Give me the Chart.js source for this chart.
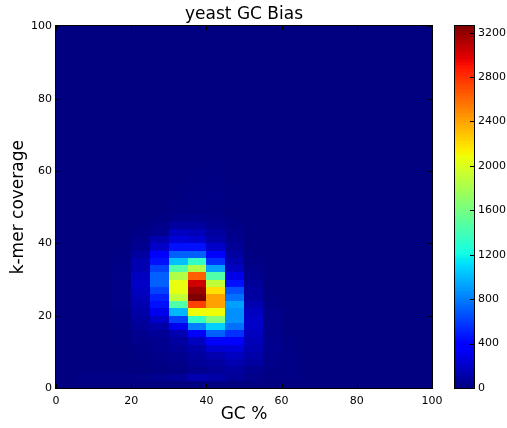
<!DOCTYPE html>
<html>
<head>
<meta charset="utf-8">
<script src="https://cdn.jsdelivr.net/npm/chart.js@4"></script>
<style>
  body { margin: 0; background: #ffffff; }
  #wrap { position: relative; width: 507px; height: 428px; }
  #wrap canvas { position: absolute; left: 0; top: 0; }
</style>
</head>
<body>
<div id="wrap">
  <canvas id="heat" width="507" height="428"></canvas>
  <canvas id="cbar" width="507" height="428"></canvas>
</div>
<script>
// bin edges (left / bottom edge of each cell)
const gcBins = [0, 5, 10, 15, 20, 25, 30, 35, 40, 45, 50, 55, 60, 65, 70, 75, 80, 85, 90, 95];
const covBins = [0, 2, 4, 6, 8, 10, 12, 14, 16, 18, 20, 22, 24, 26, 28, 30, 32, 34, 36, 38,
                 40, 42, 44, 46, 48, 50, 52, 54, 56, 58, 60, 62, 64, 66, 68, 70, 72, 74, 76, 78,
                 80, 82, 84, 86, 88, 90, 92, 94, 96, 98];
const gcWidth = 5;
const covHeight = 2;

// counts per GC column, from coverage 0-2 upwards (columns not listed are empty)
const gc05 = [0, 20];
const gc10 = [0, 20];
const gc15 = [0, 20, 0, 0, 5, 5, 10, 10, 15, 15, 20, 25, 25, 25, 25, 25, 20, 20, 15, 10, 5];
const gc20 = [0, 24, 5, 10, 15, 20, 30, 47, 69, 91, 114, 136, 158, 181, 204, 181, 136, 136, 91, 47,
              30, 20, 10, 5];
const gc25 = [0, 47, 10, 20, 30, 40, 47, 69, 114, 204, 316, 459, 510, 612, 714, 714, 612, 459, 360, 204,
              136, 47, 30, 15, 5];
const gc30 = [0, 69, 20, 30, 45, 69, 91, 136, 316, 612, 994, 1457, 1900, 2060, 2060, 1839, 1457, 1020, 714, 459,
              249, 181, 91, 40, 20, 15, 10, 10, 5];
const gc35 = [0, 136, 40, 69, 91, 114, 181, 380, 816, 1334, 2090, 2747, 3260, 3180, 3033, 2634, 1839, 1334, 714, 459,
              227, 158, 91, 40, 20, 20, 20, 15, 15, 10, 10, 5];
const gc40 = [0, 114, 69, 91, 136, 227, 380, 714, 1071, 1647, 2090, 2412, 2412, 2192, 1900, 1457, 918, 561, 380, 204,
              114, 91, 47, 30, 15, 20, 20, 20, 15, 15, 10, 10, 5];
const gc45 = [0, 69, 91, 136, 181, 249, 380, 561, 765, 867, 867, 918, 765, 663, 459, 294, 181, 136, 91, 69,
              47, 30, 20, 10, 5, 10, 10, 10, 5];
const gc50 = [0, 30, 47, 91, 114, 136, 158, 181, 204, 204, 181, 136, 91, 91, 69, 47, 30, 20, 10, 5];
const gc55 = [0, 15, 20, 30, 35, 47, 40, 35, 35, 30, 30, 20, 10];
const gc60 = [0, 15, 20, 20, 20, 15, 15, 10];

const gcCols = [5, 10, 15, 20, 25, 30, 35, 40, 45, 50, 55, 60];
const colCounts = [gc05, gc10, gc15, gc20, gc25, gc30, gc35, gc40, gc45, gc50, gc55, gc60];

const xTicks = [0, 20, 40, 60, 80, 100];
const yTicks = [0, 20, 40, 60, 80, 100];
const cbTicks = [0, 400, 800, 1200, 1600, 2000, 2400, 2800, 3200];

const FONT = 'DejaVu Sans';
const colorMax = Math.max(...colCounts.flat());

const countAt = (gc, row) => {
    const i = gcCols.indexOf(gc);
    if (i < 0) return 0;
    return colCounts[i][row] || 0;
};

// matplotlib "jet"
const jetR = [[0, 0], [0.35, 0], [0.66, 1], [0.89, 1], [1, 0.5]];
const jetG = [[0, 0], [0.125, 0], [0.375, 1], [0.64, 1], [0.91, 0], [1, 0]];
const jetB = [[0, 0.5], [0.11, 1], [0.34, 1], [0.65, 0], [1, 0]];
const seg = (pts, t) => {
    for (let i = 0; i < pts.length - 1; i++) {
        if (t <= pts[i + 1][0]) {
            const f = (t - pts[i][0]) / (pts[i + 1][0] - pts[i][0]);
            return pts[i][1] + f * (pts[i + 1][1] - pts[i][1]);
        }
    }
    return pts[pts.length - 1][1];
};
const jet = (v) => {
    const t = Math.min(1, Math.max(0, v / colorMax));
    const c = [jetR, jetG, jetB].map(p => Math.round(seg(p, t) * 255));
    return `rgb(${c[0]},${c[1]},${c[2]})`;
};

// inward tick marks along an edge
const drawTicks = (ctx, pos, horizontal, edge, dir) => {
    ctx.beginPath();
    pos.forEach(p => {
        const q = Math.round(p) + 0.5;
        if (horizontal) { ctx.moveTo(q, edge); ctx.lineTo(q, edge + dir * 4); }
        else { ctx.moveTo(edge, q); ctx.lineTo(edge + dir * 4, q); }
    });
    ctx.stroke();
};

const heatPlugin = {
    id: 'heat',
    beforeDatasetsDraw(chart) {
        const {ctx, scales: {x, y}} = chart;
        ctx.save();
        gcBins.forEach(gc => {
            const x0 = Math.round(x.getPixelForValue(gc));
            const x1 = Math.round(x.getPixelForValue(gc + gcWidth));
            covBins.forEach((cov, row) => {
                const y0 = Math.round(y.getPixelForValue(cov + covHeight));
                const y1 = Math.round(y.getPixelForValue(cov));
                ctx.fillStyle = jet(countAt(gc, row));
                ctx.fillRect(x0, y0, x1 - x0, y1 - y0);
            });
        });
        ctx.restore();
    },
    afterDraw(chart) {
        const {ctx, chartArea: a, scales: {x, y}} = chart;
        ctx.save();
        ctx.strokeStyle = '#000000';
        ctx.lineWidth = 1;
        const xs = xTicks.map(v => x.getPixelForValue(v));
        const ys = yTicks.map(v => y.getPixelForValue(v));
        drawTicks(ctx, xs, true, a.bottom, -1);
        drawTicks(ctx, xs, true, a.top, 1);
        drawTicks(ctx, ys, false, a.left, 1);
        drawTicks(ctx, ys, false, a.right, -1);
        ctx.strokeRect(Math.round(a.left) - 0.5, Math.round(a.top) - 0.5,
                       Math.round(a.right - a.left) + 1, Math.round(a.bottom - a.top) + 1);
        ctx.restore();
    }
};

const colorbarPlugin = {
    id: 'colorbar',
    beforeDatasetsDraw(chart) {
        const {ctx, chartArea: a, scales: {y}} = chart;
        ctx.save();
        const steps = 256;
        for (let i = 0; i < steps; i++) {
            const v0 = colorMax * i / steps;
            const v1 = colorMax * (i + 1) / steps;
            const top = y.getPixelForValue(v1);
            const bot = y.getPixelForValue(v0);
            ctx.fillStyle = jet((v0 + v1) / 2);
            ctx.fillRect(a.left, Math.floor(top), a.right - a.left, Math.ceil(bot) - Math.floor(top));
        }
        ctx.restore();
    },
    afterDraw(chart) {
        const {ctx, chartArea: a, scales: {y}} = chart;
        ctx.save();
        ctx.strokeStyle = '#000000';
        ctx.lineWidth = 1;
        drawTicks(ctx, cbTicks.map(v => y.getPixelForValue(v)), false, a.right, -1);
        ctx.strokeRect(Math.round(a.left) - 0.5, Math.round(a.top) - 0.5,
                       Math.round(a.right - a.left) + 1, Math.round(a.bottom - a.top) + 1);
        ctx.restore();
    }
};

const tickStyle = { color: '#000000', font: { family: FONT, size: 11 }, callback: v => String(v) };

new Chart(document.getElementById('heat'), {
    type: 'scatter',
    data: { datasets: [{ data: [], pointRadius: 0 }] },
    options: {
        responsive: false,
        animation: false,
        events: [],
        layout: { padding: { top: 0, right: 75, bottom: 0, left: 0 } },
        plugins: {
            legend: { display: false },
            tooltip: { enabled: false },
            title: {
                display: true,
                text: 'yeast GC Bias',
                fullSize: false,
                color: '#000000',
                font: { family: FONT, size: 17, weight: 'normal' },
                padding: { top: 4, bottom: 2 }
            }
        },
        scales: {
            x: {
                type: 'linear', min: 0, max: 100,
                ticks: { ...tickStyle, padding: 7, maxRotation: 0 },
                afterBuildTicks: s => { s.ticks = xTicks.map(v => ({ value: v })); },
                grid: { display: false, drawTicks: false },
                border: { display: false },
                title: { display: true, text: 'GC %', color: '#000000',
                         font: { family: FONT, size: 17 }, padding: { top: 0, bottom: 3 } },
                afterFit: s => { s.height = 40; }
            },
            y: {
                type: 'linear', min: 0, max: 100,
                ticks: { ...tickStyle, padding: 4 },
                afterBuildTicks: s => { s.ticks = yTicks.map(v => ({ value: v })); },
                grid: { display: false, drawTicks: false },
                border: { display: false },
                title: { display: true, text: 'k-mer coverage', color: '#000000',
                         font: { family: FONT, size: 17 }, padding: { top: 8, bottom: 0 } },
                afterFit: s => { s.width = 56; }
            }
        }
    },
    plugins: [heatPlugin]
});

new Chart(document.getElementById('cbar'), {
    type: 'scatter',
    data: { datasets: [] },
    options: {
        responsive: false,
        animation: false,
        events: [],
        layout: { padding: { top: 26, right: 0, bottom: 40, left: 455 } },
        plugins: { legend: { display: false }, tooltip: { enabled: false } },
        scales: {
            x: { type: 'linear', display: false, min: 0, max: 1 },
            y: {
                type: 'linear', position: 'right', min: 0, max: colorMax,
                ticks: { ...tickStyle, padding: 4 },
                afterBuildTicks: s => { s.ticks = cbTicks.map(v => ({ value: v })); },
                grid: { display: false, drawTicks: false },
                border: { display: false },
                afterFit: s => { s.width = 33; }
            }
        }
    },
    plugins: [colorbarPlugin]
});
</script>
</body>
</html>
